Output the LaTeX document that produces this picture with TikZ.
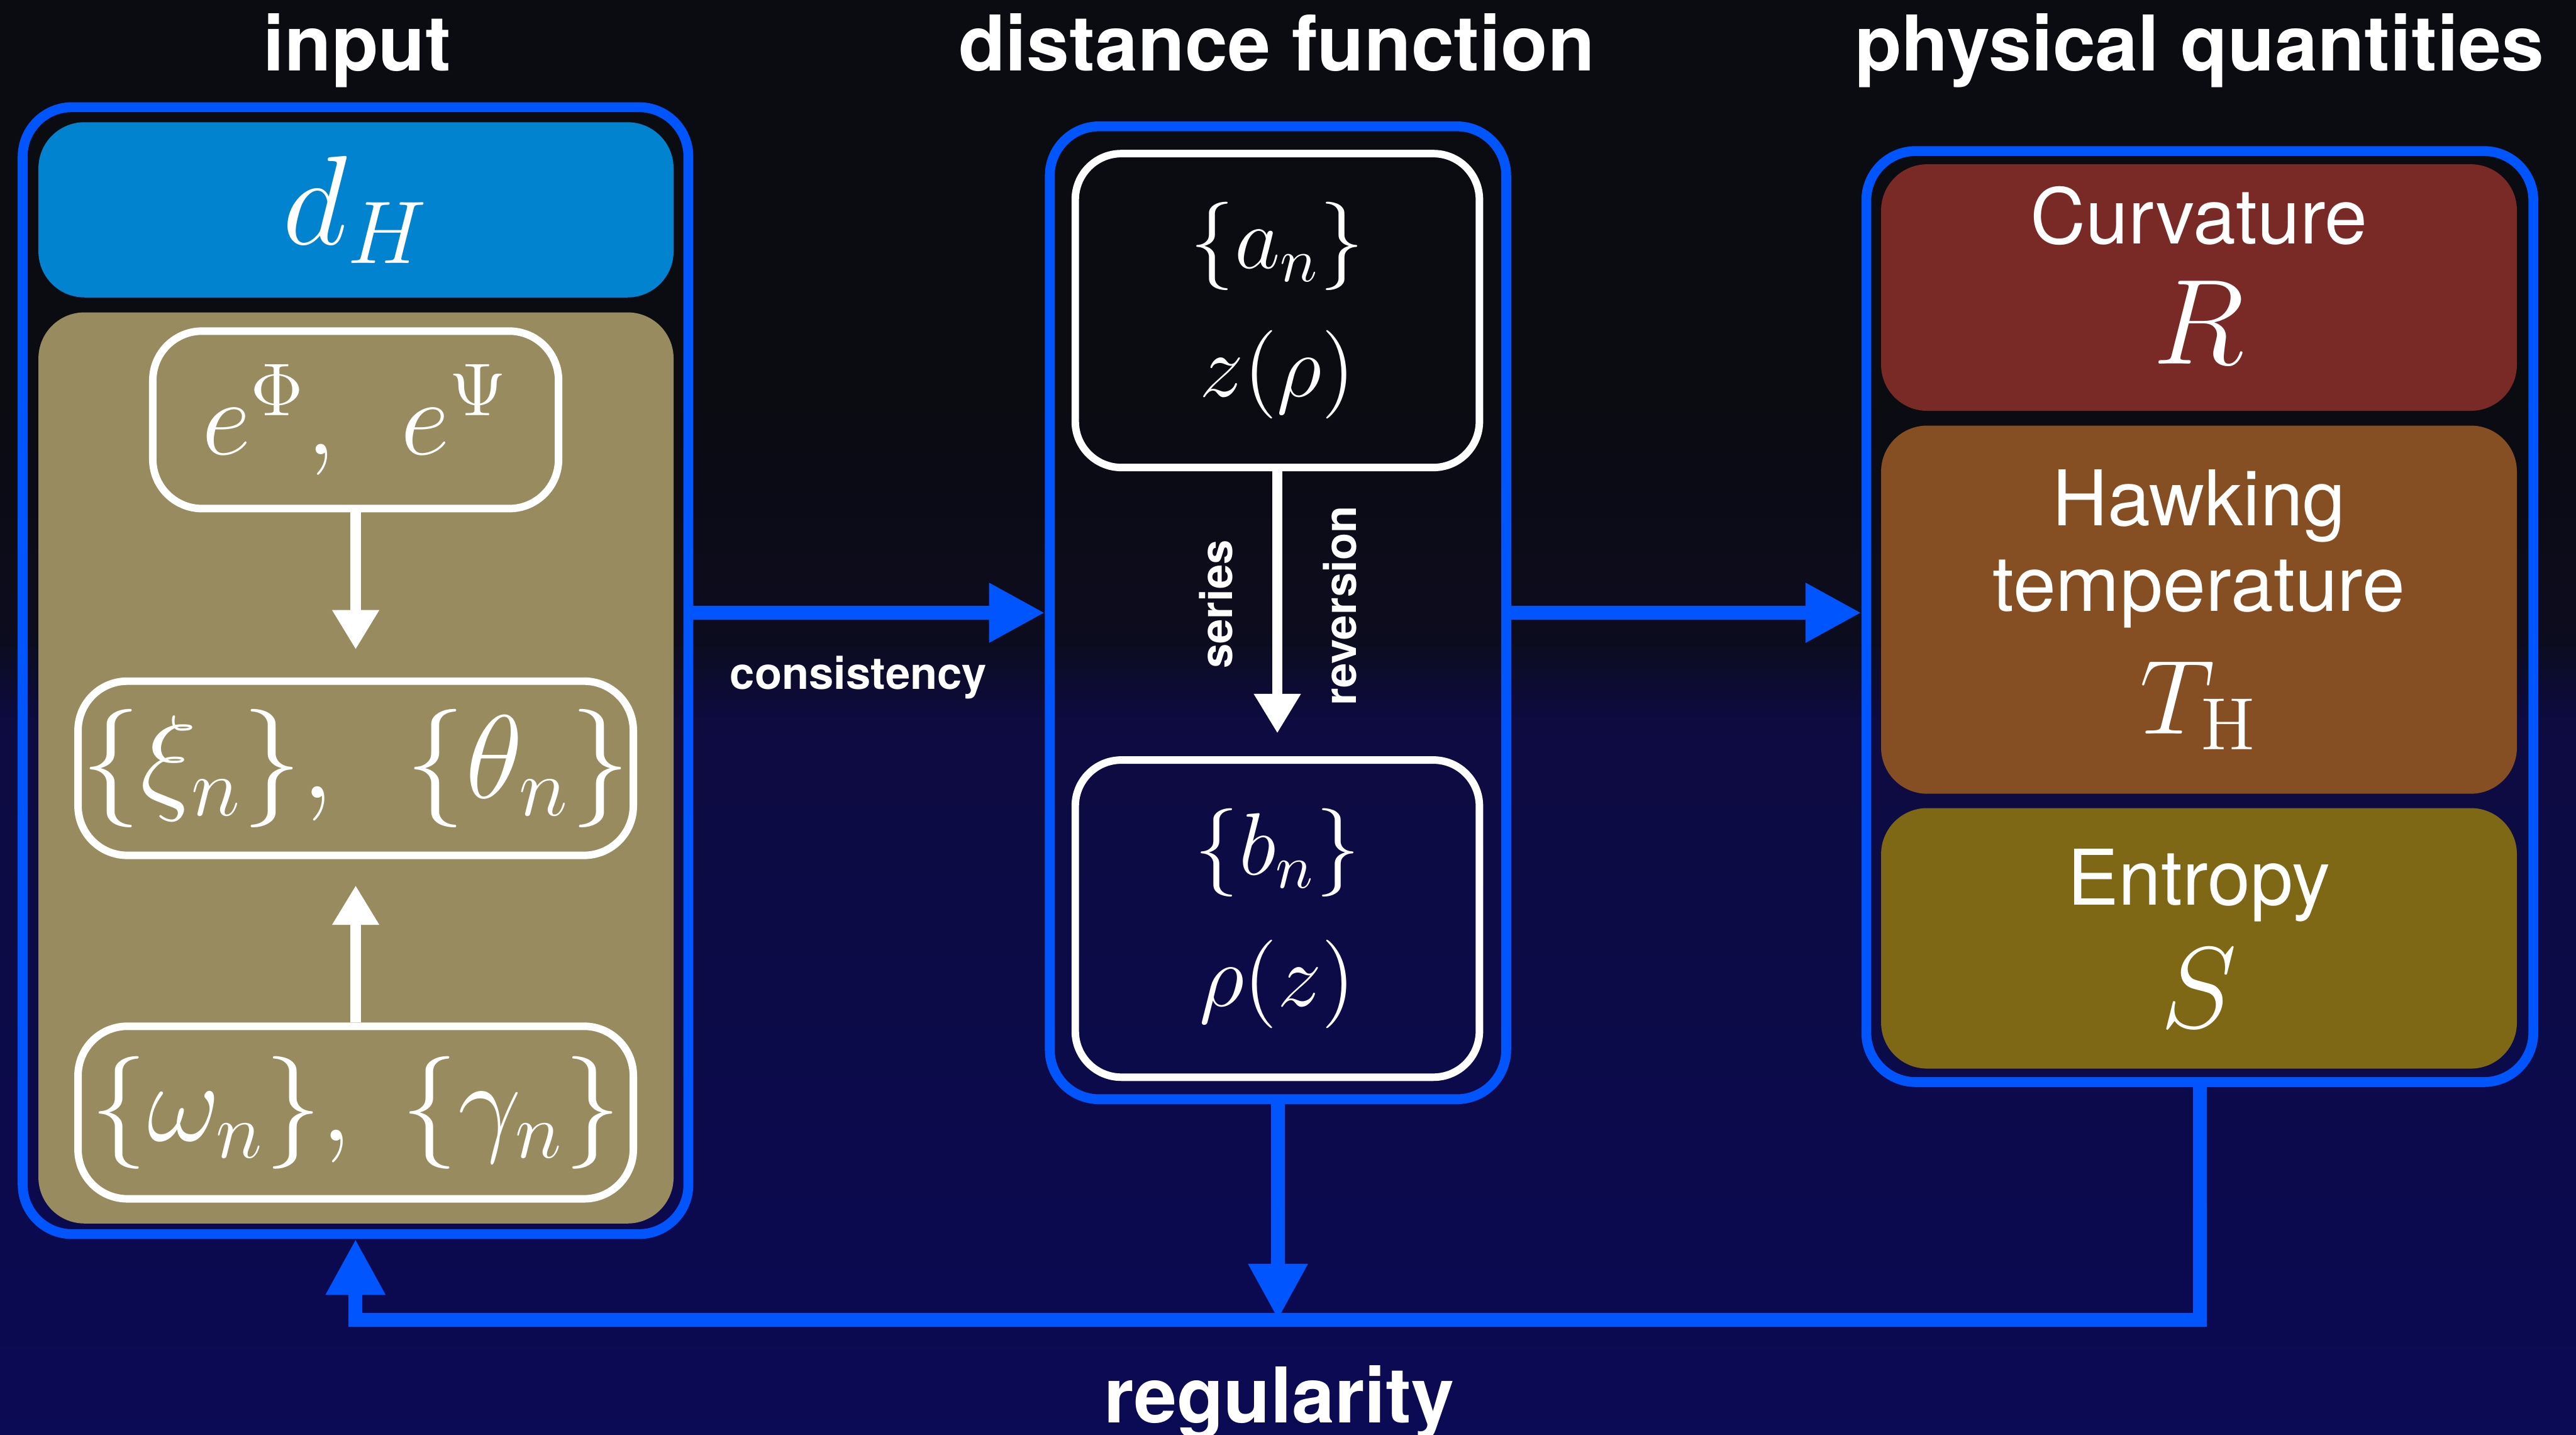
\RequirePackage{fix-cm}
\documentclass[tikz,border=0pt]{standalone}
\usepackage[no-math]{fontspec}
\newfontfamily\heros{TeX Gyre Heros}
\usetikzlibrary{arrows.meta,positioning}
\newcommand\tightlines{\lineskiplimit=-100pt\relax}
\definecolor{bgTop}{RGB}{11, 11, 18}
\definecolor{bgMid}{RGB}{12, 12, 30}
\definecolor{bgLow}{RGB}{13, 11, 64}
\definecolor{bgBot}{RGB}{11, 10, 84}
\definecolor{frameBlue}{RGB}{0, 85, 255}
\definecolor{dhBlue}{RGB}{2, 131, 207}
\definecolor{inputOlive}{RGB}{151, 139, 95}
\definecolor{curvRed}{RGB}{122, 42, 38}
\definecolor{hawkBrown}{RGB}{134, 79, 35}
\definecolor{entrOlive}{RGB}{126, 104, 21}

\begin{document}
\begin{tikzpicture}[
        every node/.style={text=white},
        title/.style={font=\heros\bfseries\fontsize{13.3pt}{16pt}\selectfont, anchor=base},
        tag/.style={font=\heros\bfseries\fontsize{7.7pt}{9pt}\selectfont, anchor=base},
        frame/.style={draw=frameBlue, line width=1.7pt, rounded corners=3mm},
        panel/.style={rounded corners=2.8mm, inner sep=0pt},
        card/.style={draw=white, line width=1.3pt, rounded corners=3mm, inner sep=0pt},
        quantity/.style={panel, align=center, minimum width=3.87cm, font=\heros\fontsize{13.3pt}{14.8pt}\selectfont\tightlines},
        bigmath/.style={font=\fontsize{20.5pt}{24pt}\selectfont},
        bluearr/.style={-{Triangle[length=3.4mm, width=3.4mm]}, draw=frameBlue, line width=2.4pt},
        whitearr/.style={-{Triangle[length=2.4mm, width=2.7mm]}, draw=white, line width=1.8pt}
    ]
        \useasboundingbox (0,0) rectangle (15.68,8.73);

        % Background
        \fill[bgTop] (0,6.29) rectangle (15.68,8.73);
        \shade[top color=bgTop, bottom color=bgMid] (0,4.84) rectangle (15.68,6.30);
        \shade[top color=bgMid, bottom color=bgLow] (0,4.34) rectangle (15.68,4.85);
        \shade[top color=bgLow, bottom color=bgBot] (0,0) rectangle (15.68,4.35);

        % Titles
        \node[title] (inTitle) at (2.173,8.298) {input};
        \node[title] (distTitle) at (7.771,8.298) {distance function};
        \node[title] (physTitle) at (13.387,8.298) {physical quantities};

        % Input column
        \node[frame, minimum width=4.052cm, minimum height=6.857cm] (input) at (2.164,4.649) {};
        \node[panel, fill=dhBlue, minimum width=3.866cm, minimum height=1.066cm, font=\fontsize{22pt}{26pt}\selectfont] (dH) at (2.167,7.453) {$d_H$};
        \node[panel, fill=inputOlive, minimum width=3.866cm, minimum height=5.544cm] (olive) at (2.167,4.057) {};
        \node[card, minimum width=2.47cm, minimum height=1.08cm, font=\fontsize{18.5pt}{22pt}\selectfont] (ephi) at (2.165,6.175) {$e^{\Phi},\;\,e^{\Psi}$};
        \node[card, bigmath, minimum width=3.38cm, minimum height=1.06cm] (xi) at (2.165,4.055) {$\{\xi_n\},\;\,\{\theta_n\}$};
        \node[card, minimum width=3.38cm, minimum height=1.05cm, font=\fontsize{19.5pt}{24pt}\selectfont] (omega) at (2.165,1.96) {$\{\omega_n\},\;\{\gamma_n\}$};
        \draw[whitearr, shorten >=1.7mm] (ephi) -- (xi);
        \draw[whitearr, shorten >=1.6mm] (omega) -- (xi);

        % Distance function column
        \node[frame, minimum width=2.778cm, minimum height=5.92cm] (dist) at (7.779,5.001) {};
        \node[card, rounded corners=2.8mm, minimum width=2.46cm, minimum height=1.91cm, align=center, font=\fontsize{15.3pt}{22.2pt}\selectfont] (anSet) at (7.775,6.84) {$\{a_n\}$\\$z(\rho)$};
        \node[card, rounded corners=2.8mm, minimum width=2.46cm, minimum height=1.93cm, align=center, font=\fontsize{15.3pt}{22.8pt}\selectfont] (bnSet) at (7.775,3.14) {$\{b_n\}$\\$\rho(z)$};
        \draw[whitearr, shorten >=1.4mm] (anSet) -- (bnSet);
        \node[tag, rotate=90] (seriesLbl) at (7.502,5.053) {series};
        \node[tag, rotate=90] (revLbl) at (8.257,5.044) {reversion};

        % Physical quantities column
        \node[frame, minimum width=4.06cm, minimum height=5.665cm] (phys) at (13.39,4.978) {};
        \node[quantity, fill=curvRed, minimum height=1.5cm, text depth=1.5mm] (curv) at (13.385,6.98) {Curvature\\[6pt]{\fontsize{21pt}{22pt}\selectfont$R$}};
        \node[quantity, fill=hawkBrown, minimum height=2.24cm] (hawk) at (13.385,5.02) {Hawking\\temperature\\[6.5pt]{\fontsize{18.3pt}{20pt}\selectfont$T_{\mathrm{H}}$}};
        \node[quantity, fill=entrOlive, minimum height=1.585cm] (entr) at (13.385,3.02) {Entropy\\[6.5pt]{\fontsize{20pt}{20pt}\selectfont$S$}};

        % Connectors
        \coordinate (loop) at (7.779,0.70);
        \draw[bluearr] (input.east |- dist.west) -- (dist.west);
        \node[tag] (consLbl) at (5.225,4.536) {consistency};
        \draw[bluearr] (dist.east) -- (dist.east -| phys.west);
        \draw[bluearr] (dist.south) -- (loop);
        \draw[bluearr] (phys.south) |- (loop) -| (input.south);
        \node[title] (regLbl) at (7.785,0.071) {regularity};
    \end{tikzpicture}
\end{document}
